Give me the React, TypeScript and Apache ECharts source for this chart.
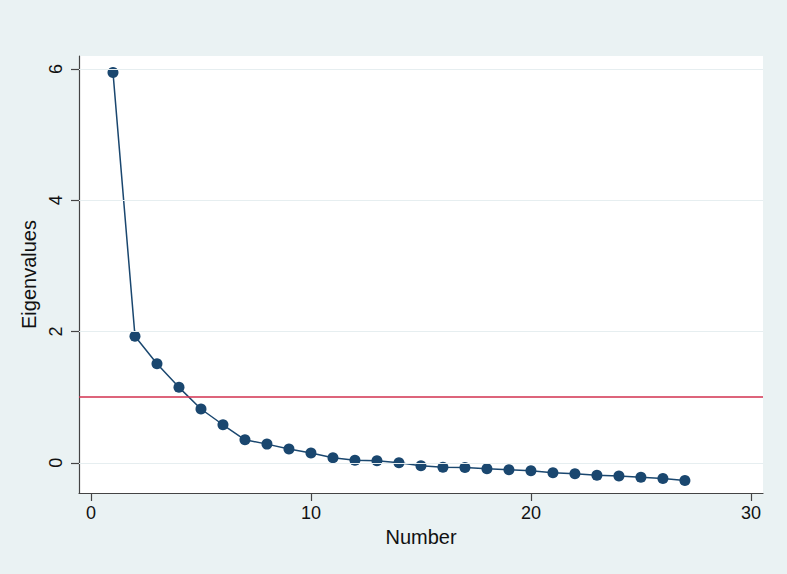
import React, { useEffect, useRef } from "react";
import * as echarts from "echarts";

const componentNumbers = [
  1, 2, 3, 4, 5, 6, 7, 8, 9, 10, 11, 12, 13, 14, 15, 16, 17, 18, 19, 20, 21, 22,
  23, 24, 25, 26, 27,
];
const eigenvalues = [
  5.95, 1.93, 1.51, 1.15, 0.82, 0.58, 0.35, 0.285, 0.21, 0.15, 0.076, 0.04,
  0.03, 0.0, -0.045, -0.066, -0.07, -0.09, -0.107, -0.122, -0.152, -0.168,
  -0.19, -0.2, -0.22, -0.24, -0.27,
];
const xTicks = [0, 10, 20, 30];
const yTicks = [0, 2, 4, 6];
const referenceLine = 1;

const FONT = "'Liberation Sans', Arial, Helvetica, sans-serif";

export default function App() {
  const ref = useRef<HTMLDivElement>(null);

  useEffect(() => {
    document.body.style.margin = "0";
    if (!ref.current) return;
    const chart = echarts.init(ref.current, undefined, { renderer: "svg" });
    const points = componentNumbers.map((n, i) => [n, eigenvalues[i]]);
    chart.setOption({
      animation: false,
      backgroundColor: "#eaf2f3",
      textStyle: { fontFamily: FONT },
      grid: {
        left: 79,
        top: 56,
        right: 24,
        bottom: 81,
        show: true,
        backgroundColor: "#ffffff",
        borderWidth: 0,
      },
      xAxis: {
        type: "value",
        min: -0.545,
        max: 30.55,
        name: "Number",
        nameLocation: "middle",
        nameGap: 34,
        nameTextStyle: { fontSize: 20, color: "#111", fontFamily: FONT },
        axisLine: { show: true, onZero: false, lineStyle: { color: "#444", width: 1.2 } },
        axisTick: {
          show: true,
          customValues: xTicks,
          length: 8,
          lineStyle: { color: "#444", width: 1.2 },
        },
        axisLabel: {
          customValues: xTicks,
          fontSize: 18,
          color: "#111",
          margin: 11,
          fontFamily: FONT,
        },
        splitLine: { show: false },
      },
      yAxis: {
        type: "value",
        min: -0.46,
        max: 6.2,
        name: "Eigenvalues",
        nameLocation: "middle",
        nameRotate: 90,
        nameGap: 33,
        nameTextStyle: { fontSize: 20, color: "#111", fontFamily: FONT },
        axisLine: { show: true, onZero: false, lineStyle: { color: "#444", width: 1.2 } },
        axisTick: {
          show: true,
          customValues: yTicks,
          length: 8,
          lineStyle: { color: "#444", width: 1.2 },
        },
        axisLabel: {
          customValues: yTicks,
          rotate: 90,
          fontSize: 18,
          color: "#111",
          margin: 14,
          fontFamily: FONT,
        },
        splitLine: { show: false },
      },
      series: [
        {
          type: "line",
          data: [],
          z: 1,
          silent: true,
          markLine: {
            silent: true,
            symbol: "none",
            label: { show: false },
            lineStyle: { color: "#e6eef0", width: 1.2, type: "solid" },
            data: yTicks.map((v) => ({ yAxis: v })),
          },
        },
        {
          type: "line",
          data: [],
          z: 2,
          silent: true,
          markLine: {
            silent: true,
            symbol: "none",
            label: { show: false },
            lineStyle: { color: "#d2304f", width: 1.6, type: "solid" },
            data: [{ yAxis: referenceLine }],
          },
        },
        {
          type: "line",
          data: points,
          z: 3,
          clip: false,
          symbol: "circle",
          symbolSize: 11,
          lineStyle: { color: "#1a476f", width: 1.5 },
          itemStyle: { color: "#1a476f" },
        },
      ],
    });
    return () => chart.dispose();
  }, []);

  return <div ref={ref} style={{ width: 787, height: 574 }} />;
}
